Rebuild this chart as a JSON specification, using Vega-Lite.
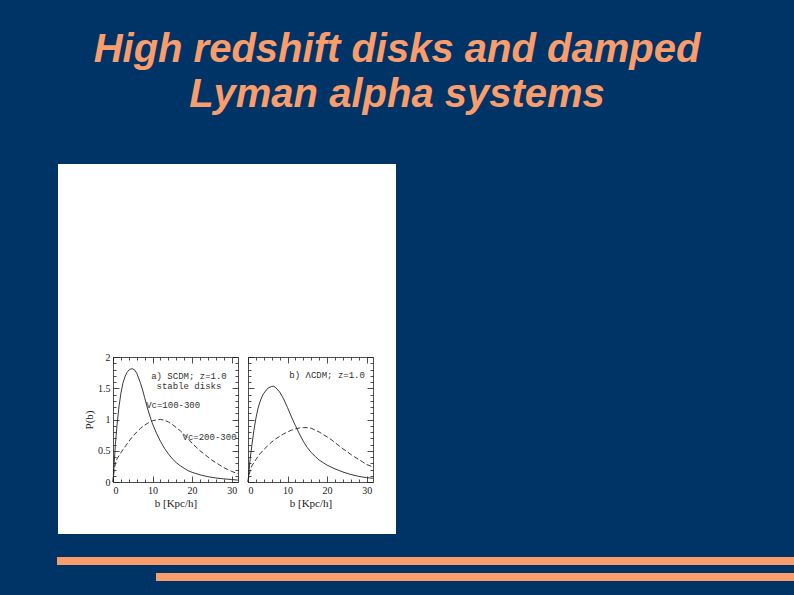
{
  "$schema": "https://vega.github.io/schema/vega-lite/v6.json",
  "background": "#003366",
  "padding": {"left": 0, "top": 30, "right": 0, "bottom": 15},
  "title": {
    "text": ["High redshift disks and damped", "Lyman alpha systems"],
    "font": "Liberation Sans",
    "fontSize": 40,
    "fontStyle": "italic",
    "fontWeight": "bold",
    "color": "#f99d6c",
    "lineHeight": 45,
    "anchor": "middle",
    "offset": 49
  },
  "config": {
    "view": {"stroke": null},
    "concat": {"spacing": 0},
    "axis": {
      "domainColor": "#222222",
      "domainWidth": 0.8,
      "tickColor": "#222222",
      "tickWidth": 0.8,
      "grid": false,
      "labelFont": "Liberation Serif",
      "labelFontSize": 10,
      "labelColor": "#222222",
      "titleFont": "Liberation Serif",
      "titleFontSize": 11,
      "titleFontWeight": "normal",
      "titleColor": "#222222"
    }
  },
  "vconcat": [
    {
      "hconcat": [
        {"width": 58, "height": 370, "data": {"values": []}, "mark": "rect"},
        {
          "width": 338,
          "height": 370,
          "view": {"fill": "white", "stroke": null},
          "data": {
            "values": [
              {"panel": "a", "series": "solid", "b": 0, "P": 0},
              {"panel": "a", "series": "solid", "b": 0.3, "P": 0.3},
              {"panel": "a", "series": "solid", "b": 0.6, "P": 0.6},
              {"panel": "a", "series": "solid", "b": 1, "P": 0.9},
              {"panel": "a", "series": "solid", "b": 1.5, "P": 1.2},
              {"panel": "a", "series": "solid", "b": 2, "P": 1.42},
              {"panel": "a", "series": "solid", "b": 2.5, "P": 1.58},
              {"panel": "a", "series": "solid", "b": 3, "P": 1.68},
              {"panel": "a", "series": "solid", "b": 3.5, "P": 1.75},
              {"panel": "a", "series": "solid", "b": 4, "P": 1.79},
              {"panel": "a", "series": "solid", "b": 4.5, "P": 1.81},
              {"panel": "a", "series": "solid", "b": 5, "P": 1.81},
              {"panel": "a", "series": "solid", "b": 5.5, "P": 1.79},
              {"panel": "a", "series": "solid", "b": 6, "P": 1.74},
              {"panel": "a", "series": "solid", "b": 6.5, "P": 1.66},
              {"panel": "a", "series": "solid", "b": 7, "P": 1.57},
              {"panel": "a", "series": "solid", "b": 7.5, "P": 1.47},
              {"panel": "a", "series": "solid", "b": 8, "P": 1.35},
              {"panel": "a", "series": "solid", "b": 8.5, "P": 1.23},
              {"panel": "a", "series": "solid", "b": 9, "P": 1.12},
              {"panel": "a", "series": "solid", "b": 9.5, "P": 1.02},
              {"panel": "a", "series": "solid", "b": 10, "P": 0.93},
              {"panel": "a", "series": "solid", "b": 11, "P": 0.78},
              {"panel": "a", "series": "solid", "b": 12, "P": 0.65},
              {"panel": "a", "series": "solid", "b": 13, "P": 0.54},
              {"panel": "a", "series": "solid", "b": 14, "P": 0.45},
              {"panel": "a", "series": "solid", "b": 15, "P": 0.37},
              {"panel": "a", "series": "solid", "b": 16, "P": 0.31},
              {"panel": "a", "series": "solid", "b": 17, "P": 0.26},
              {"panel": "a", "series": "solid", "b": 18, "P": 0.22},
              {"panel": "a", "series": "solid", "b": 19, "P": 0.18},
              {"panel": "a", "series": "solid", "b": 20, "P": 0.155},
              {"panel": "a", "series": "solid", "b": 22, "P": 0.115},
              {"panel": "a", "series": "solid", "b": 24, "P": 0.085},
              {"panel": "a", "series": "solid", "b": 26, "P": 0.065},
              {"panel": "a", "series": "solid", "b": 28, "P": 0.05},
              {"panel": "a", "series": "solid", "b": 30, "P": 0.04},
              {"panel": "a", "series": "solid", "b": 31.6, "P": 0.03},
              {"panel": "a", "series": "dashed", "b": 0, "P": 0},
              {"panel": "a", "series": "dashed", "b": 0.3, "P": 0.2},
              {"panel": "a", "series": "dashed", "b": 0.6, "P": 0.3},
              {"panel": "a", "series": "dashed", "b": 1, "P": 0.37},
              {"panel": "a", "series": "dashed", "b": 2, "P": 0.47},
              {"panel": "a", "series": "dashed", "b": 3, "P": 0.56},
              {"panel": "a", "series": "dashed", "b": 4, "P": 0.65},
              {"panel": "a", "series": "dashed", "b": 5, "P": 0.73},
              {"panel": "a", "series": "dashed", "b": 6, "P": 0.8},
              {"panel": "a", "series": "dashed", "b": 7, "P": 0.86},
              {"panel": "a", "series": "dashed", "b": 8, "P": 0.91},
              {"panel": "a", "series": "dashed", "b": 9, "P": 0.95},
              {"panel": "a", "series": "dashed", "b": 10, "P": 0.98},
              {"panel": "a", "series": "dashed", "b": 11, "P": 0.995},
              {"panel": "a", "series": "dashed", "b": 12, "P": 1.0},
              {"panel": "a", "series": "dashed", "b": 13, "P": 0.99},
              {"panel": "a", "series": "dashed", "b": 14, "P": 0.96},
              {"panel": "a", "series": "dashed", "b": 15, "P": 0.92},
              {"panel": "a", "series": "dashed", "b": 16, "P": 0.87},
              {"panel": "a", "series": "dashed", "b": 17, "P": 0.82},
              {"panel": "a", "series": "dashed", "b": 18, "P": 0.76},
              {"panel": "a", "series": "dashed", "b": 19, "P": 0.69},
              {"panel": "a", "series": "dashed", "b": 20, "P": 0.62},
              {"panel": "a", "series": "dashed", "b": 21, "P": 0.56},
              {"panel": "a", "series": "dashed", "b": 22, "P": 0.5},
              {"panel": "a", "series": "dashed", "b": 23, "P": 0.45},
              {"panel": "a", "series": "dashed", "b": 24, "P": 0.4},
              {"panel": "a", "series": "dashed", "b": 25, "P": 0.35},
              {"panel": "a", "series": "dashed", "b": 26, "P": 0.31},
              {"panel": "a", "series": "dashed", "b": 27, "P": 0.27},
              {"panel": "a", "series": "dashed", "b": 28, "P": 0.23},
              {"panel": "a", "series": "dashed", "b": 29, "P": 0.2},
              {"panel": "a", "series": "dashed", "b": 30, "P": 0.17},
              {"panel": "a", "series": "dashed", "b": 31.6, "P": 0.13},
              {"panel": "b", "series": "solid", "b": 0, "P": 0},
              {"panel": "b", "series": "solid", "b": 0.3, "P": 0.2},
              {"panel": "b", "series": "solid", "b": 0.6, "P": 0.4},
              {"panel": "b", "series": "solid", "b": 1, "P": 0.6},
              {"panel": "b", "series": "solid", "b": 1.5, "P": 0.83},
              {"panel": "b", "series": "solid", "b": 2, "P": 1.02},
              {"panel": "b", "series": "solid", "b": 2.5, "P": 1.17},
              {"panel": "b", "series": "solid", "b": 3, "P": 1.28},
              {"panel": "b", "series": "solid", "b": 3.5, "P": 1.36},
              {"panel": "b", "series": "solid", "b": 4, "P": 1.42},
              {"panel": "b", "series": "solid", "b": 5, "P": 1.5},
              {"panel": "b", "series": "solid", "b": 6, "P": 1.53},
              {"panel": "b", "series": "solid", "b": 6.5, "P": 1.53},
              {"panel": "b", "series": "solid", "b": 7, "P": 1.51},
              {"panel": "b", "series": "solid", "b": 8, "P": 1.44},
              {"panel": "b", "series": "solid", "b": 9, "P": 1.33},
              {"panel": "b", "series": "solid", "b": 10, "P": 1.19},
              {"panel": "b", "series": "solid", "b": 11, "P": 1.04},
              {"panel": "b", "series": "solid", "b": 12, "P": 0.9},
              {"panel": "b", "series": "solid", "b": 13, "P": 0.77},
              {"panel": "b", "series": "solid", "b": 14, "P": 0.65},
              {"panel": "b", "series": "solid", "b": 15, "P": 0.55},
              {"panel": "b", "series": "solid", "b": 16, "P": 0.47},
              {"panel": "b", "series": "solid", "b": 17, "P": 0.41},
              {"panel": "b", "series": "solid", "b": 18, "P": 0.35},
              {"panel": "b", "series": "solid", "b": 19, "P": 0.31},
              {"panel": "b", "series": "solid", "b": 20, "P": 0.27},
              {"panel": "b", "series": "solid", "b": 22, "P": 0.21},
              {"panel": "b", "series": "solid", "b": 24, "P": 0.16},
              {"panel": "b", "series": "solid", "b": 26, "P": 0.12},
              {"panel": "b", "series": "solid", "b": 28, "P": 0.09},
              {"panel": "b", "series": "solid", "b": 30, "P": 0.07},
              {"panel": "b", "series": "solid", "b": 31.6, "P": 0.06},
              {"panel": "b", "series": "dashed", "b": 0, "P": 0},
              {"panel": "b", "series": "dashed", "b": 0.3, "P": 0.12},
              {"panel": "b", "series": "dashed", "b": 0.6, "P": 0.2},
              {"panel": "b", "series": "dashed", "b": 1, "P": 0.26},
              {"panel": "b", "series": "dashed", "b": 2, "P": 0.36},
              {"panel": "b", "series": "dashed", "b": 3, "P": 0.45},
              {"panel": "b", "series": "dashed", "b": 4, "P": 0.52},
              {"panel": "b", "series": "dashed", "b": 5, "P": 0.58},
              {"panel": "b", "series": "dashed", "b": 6, "P": 0.64},
              {"panel": "b", "series": "dashed", "b": 7, "P": 0.69},
              {"panel": "b", "series": "dashed", "b": 8, "P": 0.73},
              {"panel": "b", "series": "dashed", "b": 9, "P": 0.77},
              {"panel": "b", "series": "dashed", "b": 10, "P": 0.8},
              {"panel": "b", "series": "dashed", "b": 11, "P": 0.83},
              {"panel": "b", "series": "dashed", "b": 12, "P": 0.85},
              {"panel": "b", "series": "dashed", "b": 13, "P": 0.865},
              {"panel": "b", "series": "dashed", "b": 14, "P": 0.87},
              {"panel": "b", "series": "dashed", "b": 15, "P": 0.87},
              {"panel": "b", "series": "dashed", "b": 16, "P": 0.86},
              {"panel": "b", "series": "dashed", "b": 17, "P": 0.83},
              {"panel": "b", "series": "dashed", "b": 18, "P": 0.8},
              {"panel": "b", "series": "dashed", "b": 19, "P": 0.76},
              {"panel": "b", "series": "dashed", "b": 20, "P": 0.72},
              {"panel": "b", "series": "dashed", "b": 21, "P": 0.68},
              {"panel": "b", "series": "dashed", "b": 22, "P": 0.63},
              {"panel": "b", "series": "dashed", "b": 23, "P": 0.58},
              {"panel": "b", "series": "dashed", "b": 24, "P": 0.53},
              {"panel": "b", "series": "dashed", "b": 25, "P": 0.49},
              {"panel": "b", "series": "dashed", "b": 26, "P": 0.44},
              {"panel": "b", "series": "dashed", "b": 27, "P": 0.4},
              {"panel": "b", "series": "dashed", "b": 28, "P": 0.36},
              {"panel": "b", "series": "dashed", "b": 29, "P": 0.32},
              {"panel": "b", "series": "dashed", "b": 30, "P": 0.28},
              {"panel": "b", "series": "dashed", "b": 31.6, "P": 0.24},
              {"panel": "a", "series": "note", "b": 19.2, "P": 1.7, "label": "a) SCDM; z=1.0"},
              {"panel": "a", "series": "note", "b": 19.2, "P": 1.54, "label": "stable disks"},
              {"panel": "a", "series": "note", "b": 15.2, "P": 1.23, "label": "Vc=100-300"},
              {"panel": "a", "series": "note", "b": 24.4, "P": 0.72, "label": "Vc=200-300"},
              {"panel": "b", "series": "note", "b": 20.0, "P": 1.72, "label": "b) ΛCDM; z=1.0"}
            ]
          },
          "resolve": {
            "scale": {"x": "independent", "y": "independent"},
            "axis": {"x": "independent", "y": "independent"}
          },
          "layer": [
            {
              "transform": [{"filter": "datum.panel === 'a' && datum.series === 'solid'"}],
              "mark": {"type": "line", "color": "#222222", "strokeWidth": 0.9},
              "encoding": {
                "x": {
                  "field": "b", "type": "quantitative",
                  "scale": {"domain": [0, 31.6], "range": [55, 180], "nice": false, "zero": false},
                  "axis": {
                    "orient": "bottom", "offset": -52, "title": "b [Kpc/h]", "titlePadding": 2,
                    "values": [0, 2, 4, 6, 8, 10, 12, 14, 16, 18, 20, 22, 24, 26, 28, 30],
                    "labelExpr": "datum.value % 10 === 0 ? toString(datum.value) : ''",
                    "tickSize": {"condition": {"test": "datum.value % 10 === 0", "value": -6}, "value": -3},
                    "labelPadding": 9
                  }
                },
                "y": {
                  "field": "P", "type": "quantitative",
                  "scale": {"domain": [0, 2], "range": [318, 193], "nice": false, "zero": false},
                  "axis": {
                    "orient": "left", "offset": -55, "title": "P(b)", "titlePadding": 3,
                    "values": [0, 0.1, 0.2, 0.3, 0.4, 0.5, 0.6, 0.7, 0.8, 0.9, 1, 1.1, 1.2, 1.3, 1.4, 1.5, 1.6, 1.7, 1.8, 1.9, 2],
                    "labelExpr": "indexof([0, 0.5, 1, 1.5, 2], datum.value) >= 0 ? toString(datum.value) : ''",
                    "tickSize": {"condition": {"test": "indexof([0, 0.5, 1, 1.5, 2], datum.value) >= 0", "value": -6}, "value": -3},
                    "labelPadding": 9
                  }
                }
              }
            },
            {
              "transform": [{"filter": "datum.panel === 'a' && datum.series === 'dashed'"}],
              "mark": {"type": "line", "color": "#222222", "strokeWidth": 0.9, "strokeDash": [5, 2.5]},
              "encoding": {
                "x": {
                  "field": "b", "type": "quantitative",
                  "scale": {"domain": [0, 31.6], "range": [55, 180], "nice": false, "zero": false},
                  "axis": {
                    "orient": "top", "offset": -193, "title": null, "labels": false,
                    "values": [0, 2, 4, 6, 8, 10, 12, 14, 16, 18, 20, 22, 24, 26, 28, 30],
                    "tickSize": {"condition": {"test": "datum.value % 10 === 0", "value": -6}, "value": -3}
                  }
                },
                "y": {
                  "field": "P", "type": "quantitative",
                  "scale": {"domain": [0, 2], "range": [318, 193], "nice": false, "zero": false},
                  "axis": {
                    "orient": "right", "offset": -158, "title": null, "labels": false,
                    "values": [0, 0.1, 0.2, 0.3, 0.4, 0.5, 0.6, 0.7, 0.8, 0.9, 1, 1.1, 1.2, 1.3, 1.4, 1.5, 1.6, 1.7, 1.8, 1.9, 2],
                    "tickSize": {"condition": {"test": "indexof([0, 0.5, 1, 1.5, 2], datum.value) >= 0", "value": -6}, "value": -3}
                  }
                }
              }
            },
            {
              "transform": [{"filter": "datum.panel === 'a' && datum.series === 'note'"}],
              "mark": {"type": "text", "font": "Liberation Mono", "fontSize": 9, "color": "#333333", "align": "center", "baseline": "middle"},
              "encoding": {
                "x": {"field": "b", "type": "quantitative", "scale": {"domain": [0, 31.6], "range": [55, 180], "nice": false, "zero": false}, "axis": null},
                "y": {"field": "P", "type": "quantitative", "scale": {"domain": [0, 2], "range": [318, 193], "nice": false, "zero": false}, "axis": null},
                "text": {"field": "label"}
              }
            },
            {
              "transform": [{"filter": "datum.panel === 'b' && datum.series === 'solid'"}],
              "mark": {"type": "line", "color": "#222222", "strokeWidth": 0.9},
              "encoding": {
                "x": {
                  "field": "b", "type": "quantitative",
                  "scale": {"domain": [0, 31.6], "range": [190, 315], "nice": false, "zero": false},
                  "axis": {
                    "orient": "bottom", "offset": -52, "title": "b [Kpc/h]", "titlePadding": 2,
                    "values": [0, 2, 4, 6, 8, 10, 12, 14, 16, 18, 20, 22, 24, 26, 28, 30],
                    "labelExpr": "datum.value % 10 === 0 ? toString(datum.value) : ''",
                    "tickSize": {"condition": {"test": "datum.value % 10 === 0", "value": -6}, "value": -3},
                    "labelPadding": 9
                  }
                },
                "y": {
                  "field": "P", "type": "quantitative",
                  "scale": {"domain": [0, 2], "range": [318, 193], "nice": false, "zero": false},
                  "axis": {
                    "orient": "left", "offset": -190, "title": null, "labels": false,
                    "values": [0, 0.1, 0.2, 0.3, 0.4, 0.5, 0.6, 0.7, 0.8, 0.9, 1, 1.1, 1.2, 1.3, 1.4, 1.5, 1.6, 1.7, 1.8, 1.9, 2],
                    "tickSize": {"condition": {"test": "indexof([0, 0.5, 1, 1.5, 2], datum.value) >= 0", "value": -6}, "value": -3}
                  }
                }
              }
            },
            {
              "transform": [{"filter": "datum.panel === 'b' && datum.series === 'dashed'"}],
              "mark": {"type": "line", "color": "#222222", "strokeWidth": 0.9, "strokeDash": [5, 2.5]},
              "encoding": {
                "x": {
                  "field": "b", "type": "quantitative",
                  "scale": {"domain": [0, 31.6], "range": [190, 315], "nice": false, "zero": false},
                  "axis": {
                    "orient": "top", "offset": -193, "title": null, "labels": false,
                    "values": [0, 2, 4, 6, 8, 10, 12, 14, 16, 18, 20, 22, 24, 26, 28, 30],
                    "tickSize": {"condition": {"test": "datum.value % 10 === 0", "value": -6}, "value": -3}
                  }
                },
                "y": {
                  "field": "P", "type": "quantitative",
                  "scale": {"domain": [0, 2], "range": [318, 193], "nice": false, "zero": false},
                  "axis": {
                    "orient": "right", "offset": -23, "title": null, "labels": false,
                    "values": [0, 0.1, 0.2, 0.3, 0.4, 0.5, 0.6, 0.7, 0.8, 0.9, 1, 1.1, 1.2, 1.3, 1.4, 1.5, 1.6, 1.7, 1.8, 1.9, 2],
                    "tickSize": {"condition": {"test": "indexof([0, 0.5, 1, 1.5, 2], datum.value) >= 0", "value": -6}, "value": -3}
                  }
                }
              }
            },
            {
              "transform": [{"filter": "datum.panel === 'b' && datum.series === 'note'"}],
              "mark": {"type": "text", "font": "Liberation Mono", "fontSize": 9, "color": "#333333", "align": "center", "baseline": "middle"},
              "encoding": {
                "x": {"field": "b", "type": "quantitative", "scale": {"domain": [0, 31.6], "range": [190, 315], "nice": false, "zero": false}, "axis": null},
                "y": {"field": "P", "type": "quantitative", "scale": {"domain": [0, 2], "range": [318, 193], "nice": false, "zero": false}, "axis": null},
                "text": {"field": "label"}
              }
            }
          ]
        }
      ]
    },
    {"width": 794, "height": 23, "data": {"values": []}, "mark": "rect"},
    {
      "hconcat": [
        {"width": 57, "height": 8, "data": {"values": []}, "mark": "rect"},
        {"width": 737, "height": 8, "view": {"fill": "#f99d6c"}, "data": {"values": []}, "mark": "rect"}
      ]
    },
    {"width": 794, "height": 8, "data": {"values": []}, "mark": "rect"},
    {
      "hconcat": [
        {"width": 156, "height": 8, "data": {"values": []}, "mark": "rect"},
        {"width": 638, "height": 8, "view": {"fill": "#f99d6c"}, "data": {"values": []}, "mark": "rect"}
      ]
    }
  ]
}
